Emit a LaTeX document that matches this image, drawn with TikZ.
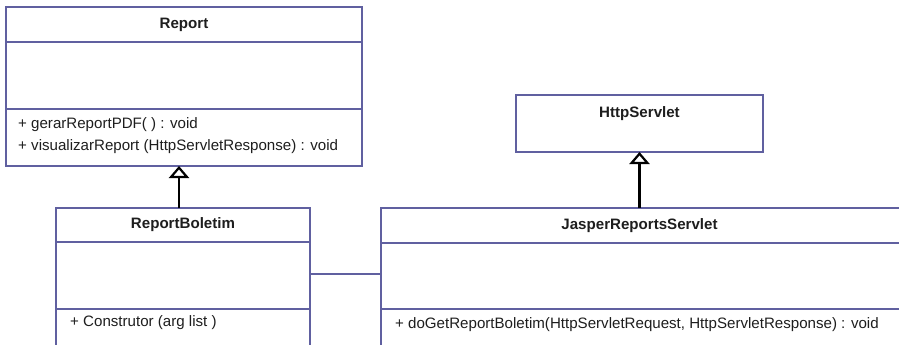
\documentclass[tikz,border=0pt]{standalone}
\usepackage{fontspec}
\setmainfont{Liberation Sans}
\usepackage{xcolor}
\usetikzlibrary{arrows.meta}

\definecolor{umlborder}{RGB}{96,96,160}
\definecolor{umltext}{RGB}{30,30,30}
\newcommand\umlfont{\fontsize{15.1}{17}\selectfont}

\begin{document}
\begin{tikzpicture}[x=1pt,y=-1pt]
\tikzset{umlbox/.style={draw=umlborder,line width=1.8pt,fill=white,inner sep=0pt,outer sep=0pt,anchor=north west}}
\tikzset{classname/.style={font=\umlfont\bfseries,text=umltext}}
\tikzset{opline/.style={font=\umlfont,text=umltext,anchor=west,inner sep=0pt}}
\tikzset{inherit/.style={-{Triangle[open,width=20pt,length=12pt]},line width=2.2pt,black}}
\tikzset{assoc/.style={draw=umlborder,line width=2pt}}

\useasboundingbox (0,0) rectangle (899,345);
\clip (0,0) rectangle (899,345);

% Report
\node[umlbox,classname,minimum width=356pt,minimum height=35pt] (report) at (6,7) {Report};
\node[umlbox,minimum width=356pt,minimum height=67pt] (report attr) at (report.south west) {};
\node[umlbox,minimum width=356pt,minimum height=57pt] (report ops) at (report attr.south west) {};
\node[opline] (report op1) at ([xshift=12pt,yshift=-16pt]report ops.north west) {+ gerarReportPDF( ) : void};
\node[opline] (report op2) at ([xshift=12pt,yshift=-38pt]report ops.north west) {+ visualizarReport (HttpServletResponse) : void};

% ReportBoletim
\node[umlbox,classname,minimum width=254pt,minimum height=34pt] (boletim) at (56,208) {ReportBoletim};
\node[umlbox,minimum width=254pt,minimum height=67pt] (boletim attr) at (boletim.south west) {};
\node[umlbox,minimum width=254pt,minimum height=60pt] (boletim ops) at (boletim attr.south west) {};
\node[opline] (boletim op1) at ([xshift=14pt,yshift=-14pt]boletim ops.north west) {+ Construtor (arg list )};

% HttpServlet
\node[umlbox,minimum width=247pt,minimum height=57pt] (http) at (516,95) {};
\node[classname,anchor=north] (http name) at ([yshift=-8pt]http.north) {HttpServlet};

% JasperReportsServlet
\node[umlbox,minimum width=540pt,minimum height=35pt] (jasper) at (381,208) {};
\node[classname] (jasper name) at (jasper.center -| http.south) {JasperReportsServlet};
\node[umlbox,minimum width=540pt,minimum height=66pt] (jasper attr) at (jasper.south west) {};
\node[umlbox,minimum width=540pt,minimum height=60pt] (jasper ops) at (jasper attr.south west) {};
\node[opline] (jasper op1) at ([xshift=14pt,yshift=-16pt]jasper ops.north west) {+ doGetReportBoletim(HttpServletRequest, HttpServletResponse) : void};

\draw[inherit] ([xshift=-4pt]boletim.north) coordinate (boletim up) -- (boletim up |- report ops.south);
\draw[inherit] (http.south |- jasper.north) -- (http.south);
\draw[assoc] ([yshift=1.5pt]boletim attr.east) coordinate (link start) -- (link start -| jasper attr.west);

\end{tikzpicture}
\end{document}
